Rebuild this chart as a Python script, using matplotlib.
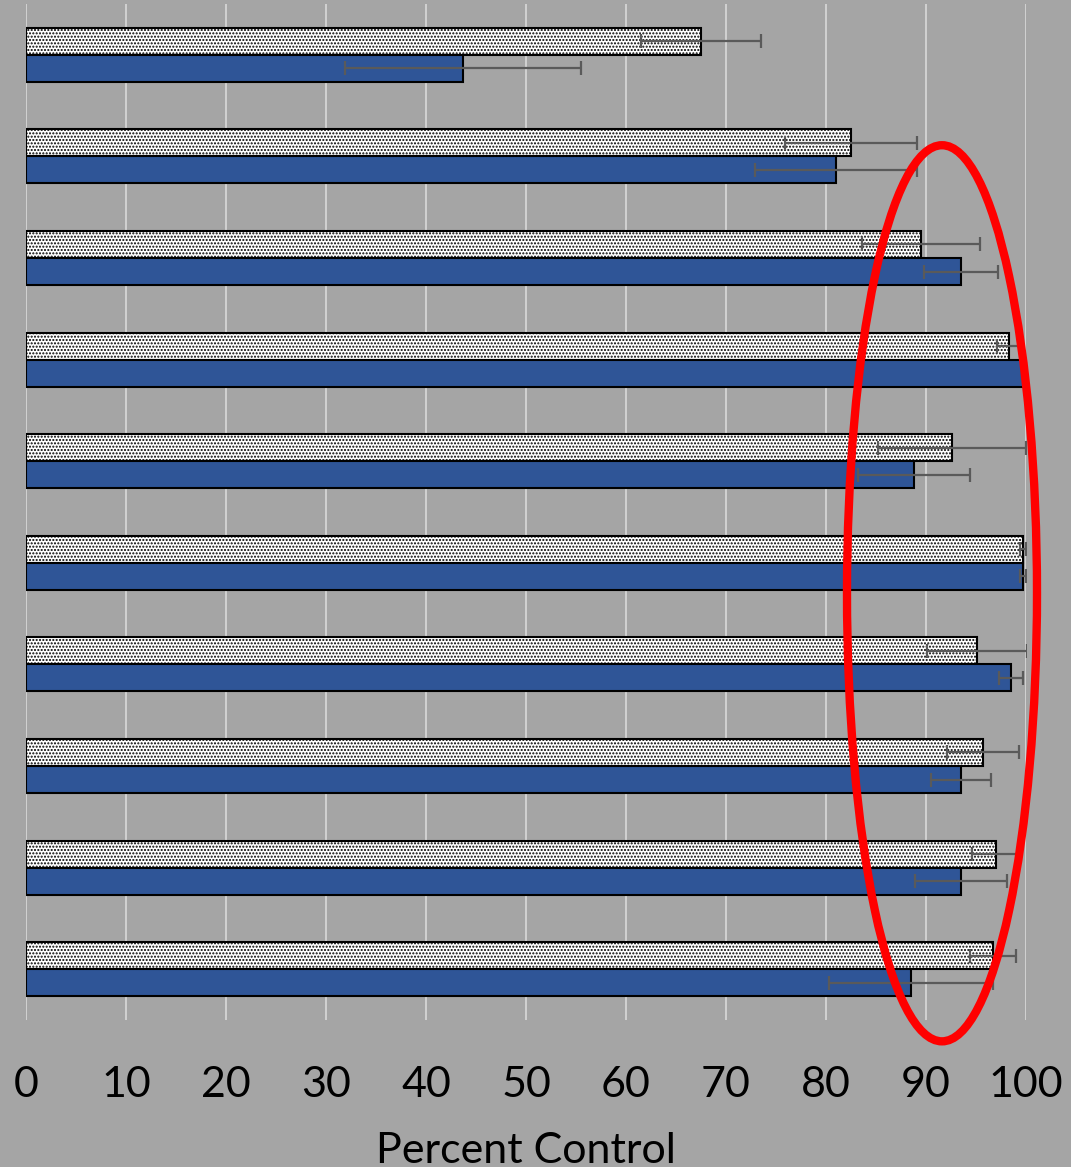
import matplotlib

matplotlib.use("Agg")
import matplotlib.pyplot as plt
import numpy as np
from matplotlib.patches import Ellipse

# значения по группам, сверху вниз
groups = ["1", "2", "3", "4", "5", "6", "7", "8", "9", "10"]
dotted_vals = [67.5, 82.5, 89.5, 98.3, 92.6, 99.7, 95.1, 95.7, 97.0, 96.7]
dotted_err = [6.0, 6.6, 5.9, 1.2, 7.4, 0.3, 5.0, 3.6, 2.4, 2.3]
blue_vals = [43.7, 81.0, 93.5, 99.9, 88.8, 99.7, 98.5, 93.5, 93.5, 88.5]
blue_err = [11.8, 8.1, 3.7, 0.3, 5.6, 0.3, 1.2, 3.0, 4.6, 8.2]
x_ticks = [0, 10, 20, 30, 40, 50, 60, 70, 80, 90, 100]

bg = "#A5A5A5"
blue = "#2F5597"
err_color = "#5A5A5A"

plt.rcParams["font.family"] = ["Lato", "DejaVu Sans"]
plt.rcParams["hatch.linewidth"] = 1.0
plt.rcParams["hatch.color"] = "black"

W, H = 1071, 1167
fig = plt.figure(figsize=(W / 100, H / 100), dpi=100, facecolor=bg)
ax = fig.add_axes([26 / W, 1 - 1020 / H, 1000 / W, 1016 / H], facecolor=bg)

ind = np.arange(len(groups))
h = 0.266

ax.barh(ind - h / 2, dotted_vals, height=h, color="white", edgecolor="black",
        linewidth=1.5, hatch=".....", zorder=3)
ax.barh(ind + h / 2, blue_vals, height=h, color=blue, edgecolor="black",
        linewidth=1.5, zorder=3)

ax.errorbar(dotted_vals, ind - h / 2, xerr=dotted_err, fmt="none", ecolor=err_color,
            elinewidth=1.6, capsize=4.7, capthick=1.6, zorder=4)
ax.errorbar(blue_vals, ind + h / 2, xerr=blue_err, fmt="none", ecolor=err_color,
            elinewidth=1.6, capsize=4.7, capthick=1.6, zorder=4)

ax.set_xlim(0, 100)
ax.set_ylim(len(groups) - 0.5, -0.5)
ax.set_xticks(x_ticks)
ax.set_yticks([])
ax.grid(axis="x", color="#D9D9D9", linewidth=1.2, zorder=0)
ax.set_axisbelow(True)
for s in ax.spines.values():
    s.set_visible(False)
ax.tick_params(axis="x", length=0, pad=33, labelsize=31)
ax.set_xlabel("Percent Control", fontsize=31, labelpad=20)

# выделение правой части
ell = Ellipse((91.6, 5.3), width=19.0, height=8.82, fill=False, edgecolor="#FF0000",
              linewidth=6, clip_on=False, zorder=6)
ax.add_patch(ell)

plt.savefig("out.png", dpi=100, facecolor=bg)
